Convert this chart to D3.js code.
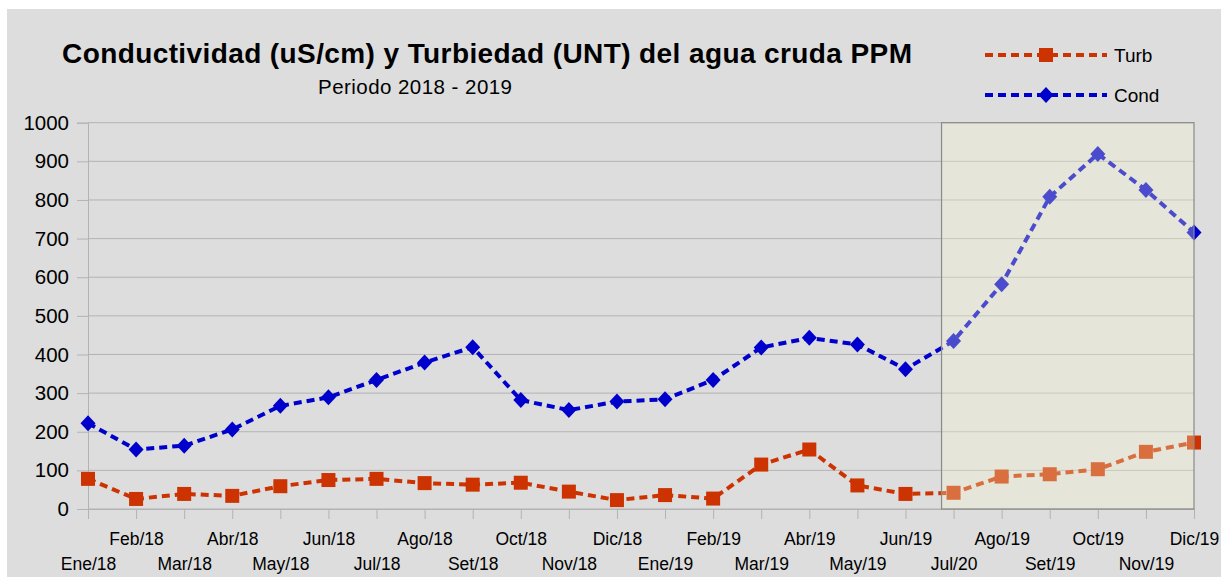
<!DOCTYPE html>
<html>
<head>
<meta charset="utf-8">
<script src="https://cdn.jsdelivr.net/npm/d3@7"></script>
<style>
  body { margin: 0; background: #fff; }
  svg { display: block; font-family: "Liberation Sans", Arial, sans-serif; }
</style>
</head>
<body>
<div id="chart"></div>
<script>
// Categories (months) as they appear on the axis
var months = ["Ene/18", "Feb/18", "Mar/18", "Abr/18", "May/18", "Jun/18",
              "Jul/18", "Ago/18", "Set/18", "Oct/18", "Nov/18", "Dic/18",
              "Ene/19", "Feb/19", "Mar/19", "Abr/19", "May/19", "Jun/19",
              "Jul/20", "Ago/19", "Set/19", "Oct/19", "Nov/19", "Dic/19"];

// Series values
var turb = [78, 26, 39, 34, 59, 75, 78, 67, 63, 68, 45, 23,
            36, 27, 115, 154, 61, 39, 42, 84, 90, 103, 148, 172];
var cond = [222, 154, 164, 206, 267, 289, 334, 379, 419, 282, 256, 278,
            284, 334, 418, 443, 426, 362, 435, 582, 808, 919, 826, 716];

var yTicks = [0, 100, 200, 300, 400, 500, 600, 700, 800, 900, 1000];

// shaded region starts part way after this month and runs to the end
var shadeFrom = "Jun/19";

var w = 1221;
var h = 577;
var plotLeft = 88, plotRight = 1194, plotTop = 122.7, plotBottom = 509;

var turbColor = "#cc3300";
var condColor = "#0000cc";

var x = d3.scalePoint()
          .domain(months)
          .range([plotLeft, plotRight]);

var y = d3.scaleLinear()
          .domain([0, 1000])
          .range([plotBottom, plotTop]);

var svg = d3.select("#chart")
            .append("svg")
            .attr("width", w)
            .attr("height", h);

// grey panel
svg.append("rect")
   .attr("x", 7).attr("y", 9)
   .attr("width", w - 7).attr("height", h - 9)
   .attr("fill", "#dddddd");

// horizontal grid lines
svg.append("g")
   .selectAll("line")
   .data(yTicks)
   .enter()
   .append("line")
   .attr("x1", plotLeft).attr("x2", plotRight)
   .attr("y1", function(d) { return y(d); })
   .attr("y2", function(d) { return y(d); })
   .attr("stroke", "#b3b3b3")
   .attr("stroke-width", 1);

// Y axis
var yAxis = d3.axisLeft(y).tickValues(yTicks).tickFormat(d3.format("d"))
              .tickSize(11).tickPadding(8);
var gy = svg.append("g")
   .attr("transform", "translate(" + plotLeft + ",0)")
   .call(yAxis);
gy.select(".domain").attr("stroke", "#b3b3b3");
gy.selectAll(".tick line").attr("stroke", "#b3b3b3");
gy.selectAll(".tick text")
  .attr("font-size", 20.5)
  .attr("font-family", "Liberation Sans, Arial, sans-serif")
  .attr("fill", "#000");

// X axis
var xAxis = d3.axisBottom(x).tickSize(10).tickPadding(0);
var gx = svg.append("g")
   .attr("transform", "translate(0," + plotBottom + ")")
   .call(xAxis);
gx.select(".domain").attr("stroke", "#b3b3b3");
gx.selectAll(".tick line").attr("stroke", "#b3b3b3");
gx.selectAll(".tick text")
  .attr("font-size", 17.5)
  .attr("font-family", "Liberation Sans, Arial, sans-serif")
  .attr("fill", "#000")
  .attr("dy", null)
  .attr("y", function(d, i) { return i % 2 === 1 ? 36 : 61; });

// lines
var line = d3.line()
             .x(function(d, i) { return x(months[i]); })
             .y(function(d) { return y(d); });

function square(g, cx, cy, color) {
  g.append("rect")
   .attr("x", cx - 7).attr("y", cy - 7)
   .attr("width", 14).attr("height", 14)
   .attr("fill", color);
}
function diamond(g, cx, cy, color) {
  g.append("path")
   .attr("d", "M" + cx + "," + (cy - 8) + "L" + (cx + 7.5) + "," + cy +
              "L" + cx + "," + (cy + 8) + "L" + (cx - 7.5) + "," + cy + "Z")
   .attr("fill", color);
}

svg.append("path")
   .datum(turb)
   .attr("d", line)
   .attr("fill", "none")
   .attr("stroke", turbColor)
   .attr("stroke-width", 4)
   .attr("stroke-dasharray", "8,5");

svg.append("path")
   .datum(cond)
   .attr("d", line)
   .attr("fill", "none")
   .attr("stroke", condColor)
   .attr("stroke-width", 4)
   .attr("stroke-dasharray", "8,5");

var marks = svg.append("g");
turb.forEach(function(d, i) { square(marks, x(months[i]), y(d), turbColor); });
cond.forEach(function(d, i) { diamond(marks, x(months[i]), y(d), condColor); });

// highlighted region (translucent overlay)
var shadeX = x(shadeFrom) + x.step() * 0.75;
svg.append("rect")
   .attr("x", shadeX).attr("y", y(1000))
   .attr("width", plotRight - shadeX).attr("height", y(0) - y(1000))
   .attr("fill", "rgb(250,250,207)")
   .attr("fill-opacity", 0.3)
   .attr("stroke", "#8a8a8a")
   .attr("stroke-width", 1.2);

// titles
svg.append("text")
   .attr("x", 487).attr("y", 63)
   .attr("text-anchor", "middle")
   .attr("font-size", 28)
   .attr("font-weight", "bold")
   .attr("textLength", 850)
   .attr("lengthAdjust", "spacing")
   .text("Conductividad (uS/cm) y Turbiedad (UNT) del agua cruda PPM");

svg.append("text")
   .attr("x", 415).attr("y", 94)
   .attr("text-anchor", "middle")
   .attr("font-size", 20.5)
   .attr("textLength", 194)
   .attr("lengthAdjust", "spacing")
   .text("Periodo 2018 - 2019");

// legend
var legend = [
  { name: "Turb", color: turbColor, shape: square, y: 55 },
  { name: "Cond", color: condColor, shape: diamond, y: 95 }
];
legend.forEach(function(d) {
  var g = svg.append("g");
  g.append("line")
   .attr("x1", 985).attr("x2", 1107)
   .attr("y1", d.y).attr("y2", d.y)
   .attr("stroke", d.color)
   .attr("stroke-width", 4)
   .attr("stroke-dasharray", "8,5");
  d.shape(g, 1046, d.y, d.color);
  g.append("text")
   .attr("x", 1114).attr("y", d.y + 7)
   .attr("font-size", 19)
   .text(d.name);
});
</script>
</body>
</html>
